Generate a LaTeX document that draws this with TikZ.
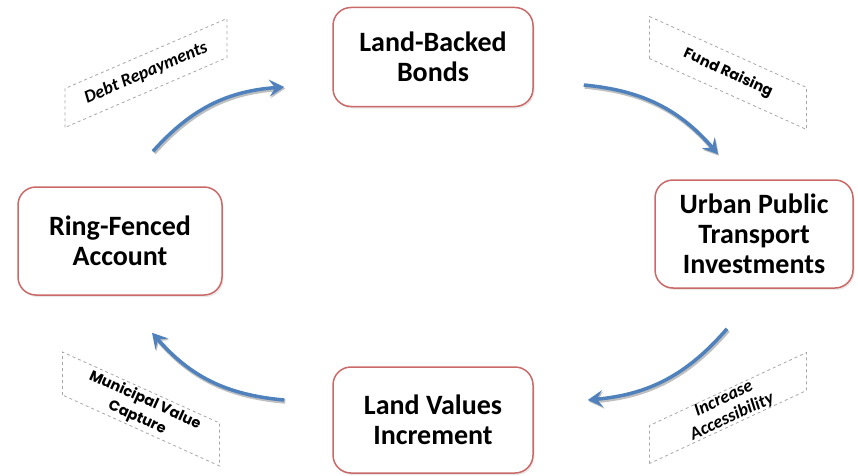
\documentclass[tikz,border=0pt]{standalone}
\usepackage{fontspec}
\setmainfont{Carlito}
\newfontfamily\geofont{Poppins}
\usetikzlibrary{arrows.meta, positioning, calc, shadows}
\definecolor{rojoborde}{HTML}{C0504D}
\definecolor{azuloffice}{HTML}{4F81BD}
\definecolor{grisguion}{HTML}{A6A6A6}
\colorlet{colBorde}{rojoborde!85!white}
\colorlet{colFlecha}{azuloffice}
\colorlet{colGuion}{grisguion}
\tikzset{
  cajaBase/.style={
    draw=colBorde, line width=1.5pt, rounded corners=18pt,
    minimum width=200pt, minimum height=104pt,
    align=center, font=\fontsize{28}{30}\selectfont\bfseries,
    fill=white, drop shadow={opacity=0.18, shadow xshift=1.5pt, shadow yshift=-2pt}
  },
  etiquetaInclinada/.style={
    inner sep=0pt, align=center,
    font=\fontsize{18}{20}\selectfont\bfseries\itshape
  },
  etiquetaGeo/.style={etiquetaInclinada,
    font=\geofont\fontsize{14.5}{19}\selectfont\bfseries},
  marcoGuion/.style={draw=colGuion, dashed, line width=0.8pt},
  flecha/.style={-{Stealth[length=15pt, width=17pt, inset=6pt]},
    line width=3.5pt, colFlecha, bend left=22,
    preaction={draw=black!25, line width=4.5pt, transform canvas={xshift=1pt, yshift=-1.5pt}}},
}
% marco punteado inclinado alrededor de una etiqueta: nodo, ancho, alto, pendiente
\newcommand{\marcoInclinado}[4]{%
  \begin{scope}[shift={(#1.center)}, yslant=#4]
    \draw[marcoGuion] (-#2/2,-#3/2) rectangle (#2/2,#3/2);
  \end{scope}}

\begin{document}
\begin{tikzpicture}[x=1pt, y=1pt]
    \useasboundingbox (0,0) rectangle (858,475);

    \node[cajaBase, minimum height=99pt] (bonds) at (433,418) {Land-Backed\\Bonds};
    \node[cajaBase, minimum width=198pt, minimum height=108pt] (urban) at (754,241) {Urban Public\\Transport\\Investments};
    \node[cajaBase, minimum height=106pt] (values) at (433,55) {Land Values\\Increment};
    \node[cajaBase, minimum width=204pt, minimum height=108pt] (ring) at (120,234) {Ring-Fenced\\Account};

    % etiquetas punteadas
    \node[etiquetaInclinada, rotate=23.4] (debt) at (146,402) {Debt Repayments};
    \node[etiquetaGeo, rotate=-24.3] (fund) at (728,402) {Fund Raising};
    \node[etiquetaInclinada, rotate=24.9] (access) at (728,67) {Increase\\Accessibility};
    \node[etiquetaGeo, rotate=-24.3] (capture) at (141,66) {Municipal Value\\Capture};

    \marcoInclinado{debt}{162}{39}{0.432}
    \marcoInclinado{fund}{157}{42}{-0.452}
    \marcoInclinado{access}{157}{38}{0.465}
    \marcoInclinado{capture}{157}{43}{-0.452}

    \draw[flecha] ($(ring.north)+(33,35)$) to ($(bonds.west)+(-48,-30)$);
    \draw[flecha] ($(bonds.east)+(50,-28)$) to ($(urban.north)+(-36,25)$);
    \draw[flecha] ($(urban.south)+(-27,-40)$) to ($(values.east)+(54,20)$);
    \draw[flecha] ($(values.west)+(-48,20)$) to ($(ring.south)+(32,-37)$);
  \end{tikzpicture}
\end{document}
